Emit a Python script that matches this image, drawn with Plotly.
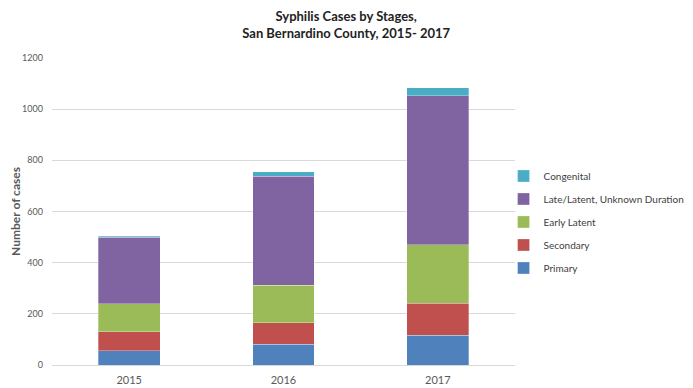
import plotly.graph_objects as go

years = ["2015", "2016", "2017"]
primary = [55, 81, 117]
secondary = [75, 84, 124]
early_latent = [110, 147, 229]
late_latent = [260, 426, 582]
congenital = [4, 17, 31]

series = [
    ("Primary", primary, "#4F81BD"),
    ("Secondary", secondary, "#C0504D"),
    ("Early Latent", early_latent, "#9BBB59"),
    ("Late/Latent, Unknown Duration", late_latent, "#8064A2"),
    ("Congenital", congenital, "#4BACC6"),
]

FONT = "Lato"

fig = go.Figure()
for i, (name, vals, color) in enumerate(series):
    fig.add_trace(go.Bar(
        x=years, y=vals, name=name, legendgroup=name,
        legendrank=100 - i,
        marker=dict(color=color, line=dict(color="rgba(255,255,255,0.6)", width=0.5)),
    ))

fig.update_layout(
    width=693, height=388,
    barmode="stack", bargap=0.6,
    paper_bgcolor="white", plot_bgcolor="white",
    margin=dict(l=44, r=180, t=50, b=31),
    title=dict(
        text="<b>Syphilis Cases by Stages,<br>San Bernardino County, 2015- 2017</b>",
        x=0.488, xanchor="center", y=0.967, yanchor="top",
        font=dict(family=FONT, size=13, color="#222222"),
    ),
    font=dict(family=FONT, color="#595959"),
    legend=dict(
        traceorder="grouped",
        x=1.377, xanchor="right", y=0.466, yanchor="middle",
        font=dict(family=FONT, size=10, color="#404040"),
        itemwidth=30, tracegroupgap=4,
        bgcolor="rgba(0,0,0,0)",
    ),
    showlegend=True,
)
fig.update_xaxes(
    showgrid=False, showline=False, ticks="", automargin=False,
    tickfont=dict(size=11, color="#595959"), ticklabelstandoff=7,
)
fig.update_yaxes(
    range=[0, 1200], dtick=200, automargin=False,
    showgrid=True, gridcolor="#D9D9D9", gridwidth=1,
    zeroline=True, zerolinecolor="#D9D9D9", zerolinewidth=1,
    tickfont=dict(size=9, color="#595959"),
    ticklabelstandoff=8,
    title=dict(text="<b>Number of cases</b>", font=dict(size=12, color="#595959"), standoff=0),
)

fig.write_html("out.html")
